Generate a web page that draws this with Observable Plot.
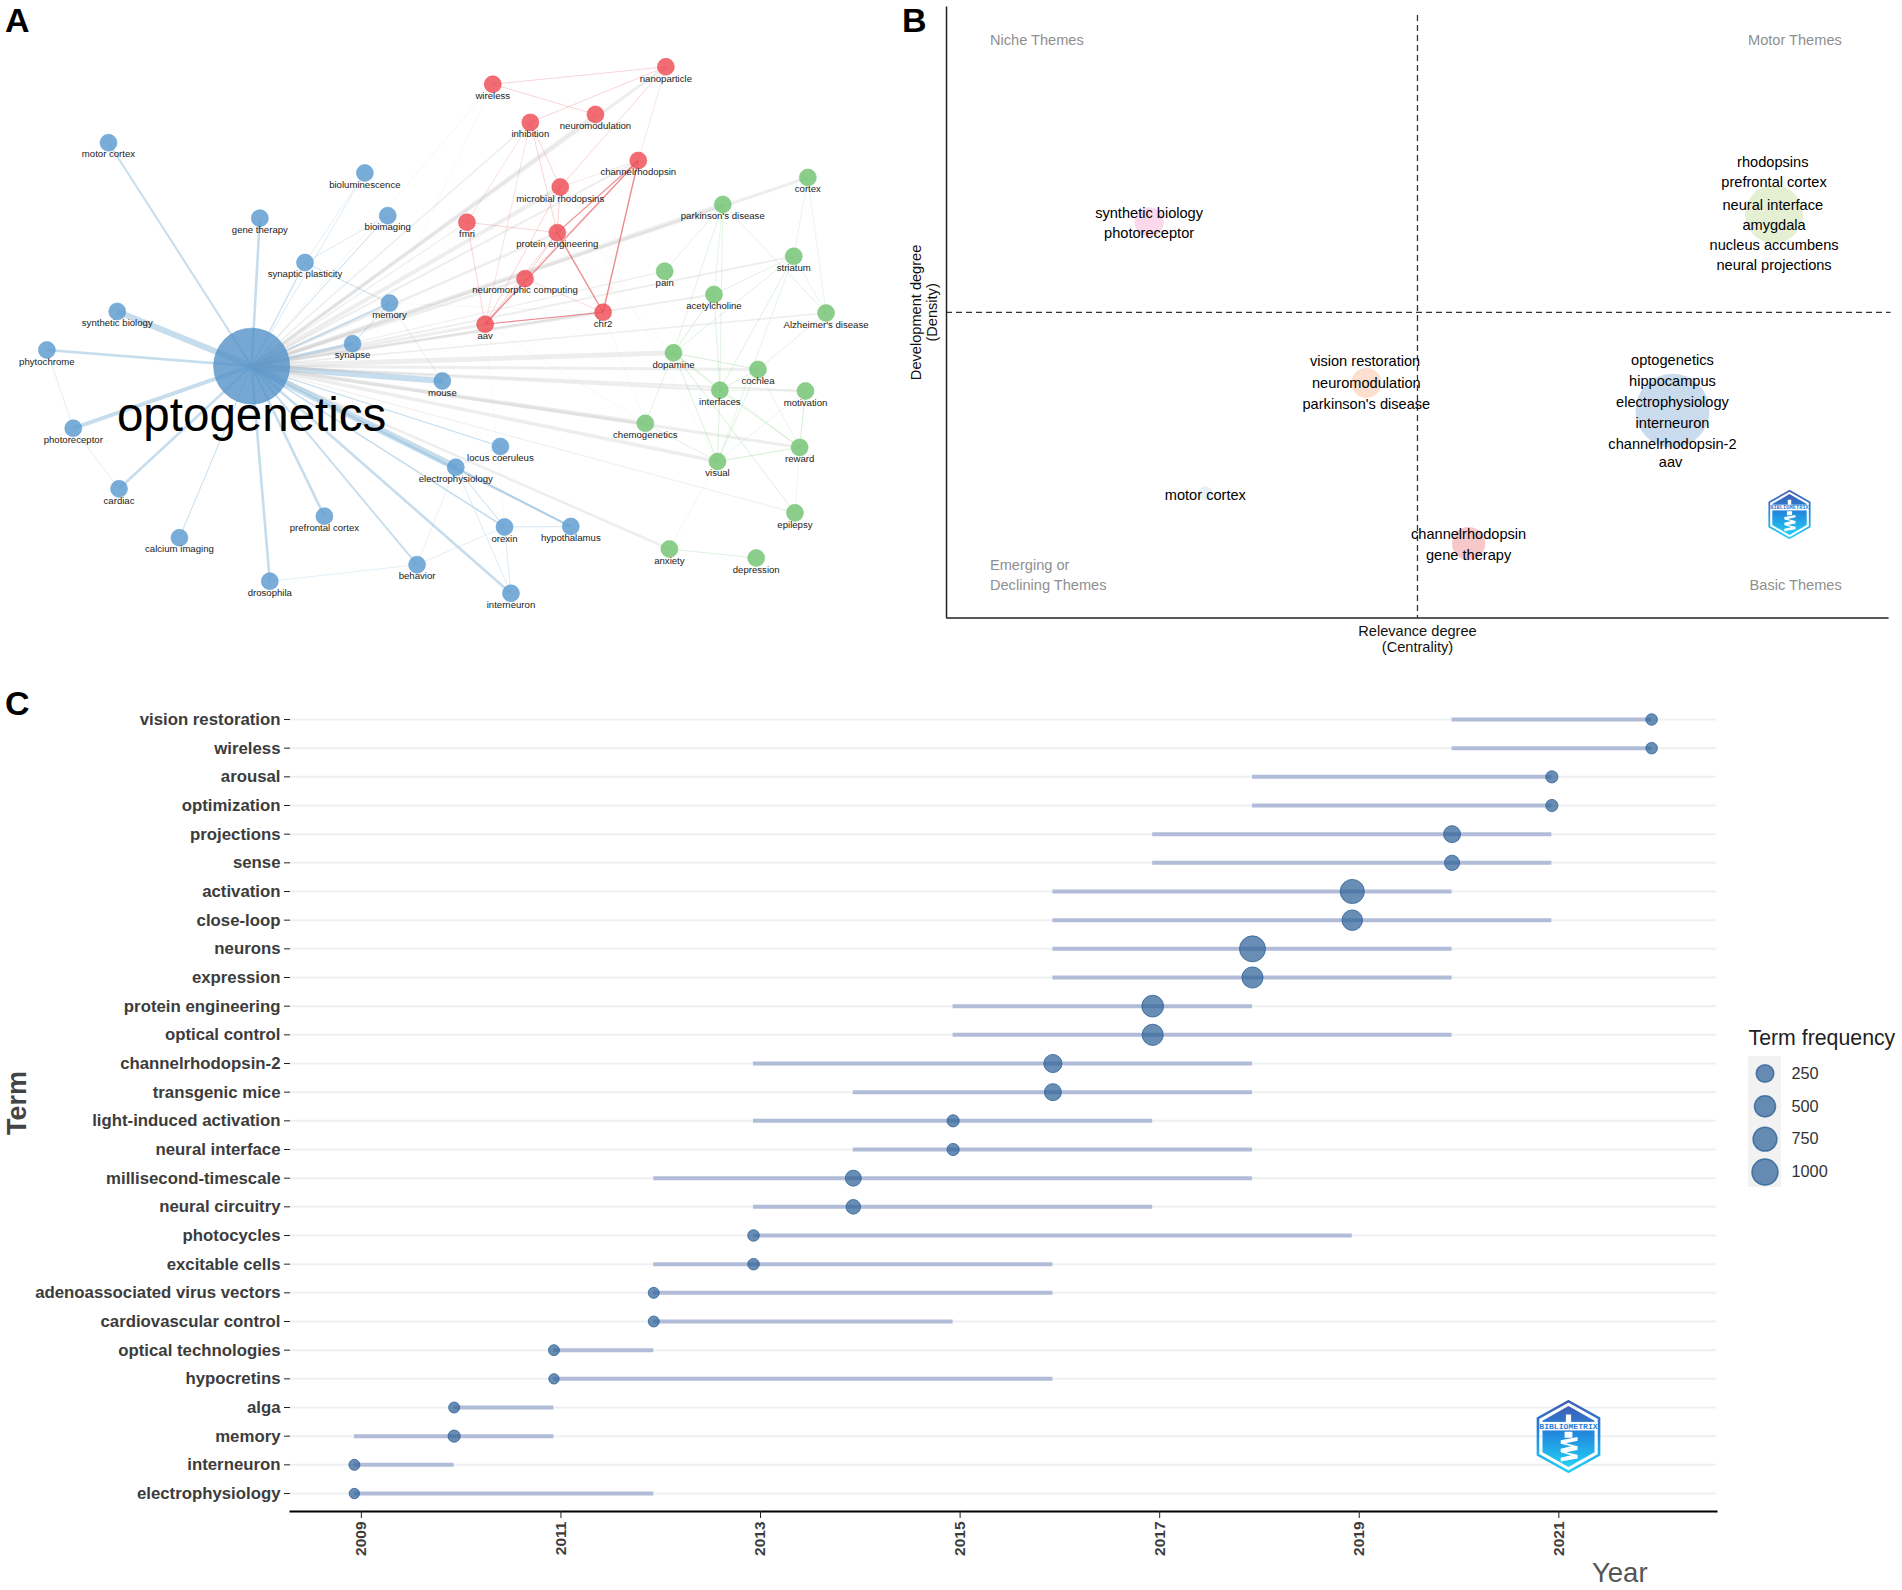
<!DOCTYPE html>
<html><head><meta charset="utf-8">
<script src="https://cdn.jsdelivr.net/npm/d3@7"></script>
<script src="https://cdn.jsdelivr.net/npm/@observablehq/plot@0.6"></script>
<style>
html,body{margin:0;padding:0;background:#fff;font-family:"Liberation Sans",Arial,sans-serif}
#page{position:relative;width:1902px;height:1590px;overflow:hidden}
.abs{position:absolute}
.letter{position:absolute;font-weight:bold;font-size:34px;line-height:34px;color:#000}
#page svg{position:absolute}
</style></head><body><div id="page"></div>
<script>
// ---------- Panel A: thematic network (layout units) ----------
const nodeNames = ["optogenetics","motor cortex","bioluminescence","gene therapy","bioimaging","synaptic plasticity","memory","synthetic biology","phytochrome","synapse","mouse","photoreceptor","cardiac","locus coeruleus","electrophysiology","prefrontal cortex","calcium imaging","orexin","hypothalamus","behavior","drosophila","interneuron",
"wireless","nanoparticle","inhibition","neuromodulation","channelrhodopsin","microbial rhodopsins","fmri","protein engineering","neuromorphic computing","aav","chr2",
"cortex","parkinson's disease","striatum","pain","acetylcholine","Alzheimer's disease","dopamine","cochlea","interfaces","motivation","chemogenetics","reward","visual","epilepsy","anxiety","depression"];
const nodeX = [428,184,621,442,660,519,663,199,79,600,753,124,202,852,776,552,305,859,972,710,459,870,
839,1134,903,1014,1087,954,795,949,894,826,1027,
1376,1231,1352,1132,1216,1407,1147,1291,1226,1372,1099,1362,1222,1354,1140,1288];
const nodeY = [882,343,416,525,519,632,730,750,843,828,918,1032,1178,1076,1126,1244,1296,1270,1269,1361,1401,1430,
202,160,294,275,386,450,535,560,671,781,752,
427,492,617,653,709,754,850,890,940,942,1020,1078,1112,1236,1323,1345];
const nodeGroups = [...Array(22).fill("blue"),...Array(11).fill("red"),...Array(16).fill("green")];
const hubEdges = [["motor cortex",2],["bioluminescence",.6],["gene therapy",2.6],["bioimaging",1],["synaptic plasticity",1.2],["memory",2],["synthetic biology",6],["phytochrome",2.6],["synapse",3],["mouse",6],["photoreceptor",4],["cardiac",2.6],["locus coeruleus",1.2],["electrophysiology",7],["prefrontal cortex",2.6],["calcium imaging",1],["orexin",1.6],["hypothalamus",2],["behavior",1.8],["drosophila",2.6],["interneuron",2.6],
["wireless",.6],["nanoparticle",3],["inhibition",1.5],["neuromodulation",3],["channelrhodopsin",2],["microbial rhodopsins",4],["fmri",1.2],["protein engineering",2.5],["neuromorphic computing",3],["aav",3],["chr2",3],
["cortex",3],["parkinson's disease",4],["striatum",2],["pain",1.2],["acetylcholine",2],["Alzheimer's disease",1.6],["dopamine",5],["cochlea",3],["interfaces",2.5],["motivation",2.2],["chemogenetics",4],["reward",3],["visual",3.5],["epilepsy",1],["anxiety",2.6]];
const otherEdges = [["wireless","nanoparticle",.8],["wireless","neuromodulation",.8],["inhibition","nanoparticle",.8],["microbial rhodopsins","nanoparticle",.8],["nanoparticle","channelrhodopsin",.5],["inhibition","microbial rhodopsins",.8],["inhibition","protein engineering",.8],["inhibition","aav",.6],["fmri","protein engineering",.8],["fmri","aav",.8],["fmri","inhibition",.6],["microbial rhodopsins","channelrhodopsin",.5],["microbial rhodopsins","protein engineering",.8],["microbial rhodopsins","aav",.8],["channelrhodopsin","protein engineering",1.2],["channelrhodopsin","neuromorphic computing",.8],["channelrhodopsin","aav",1.2],["channelrhodopsin","chr2",1.4],["protein engineering","chr2",1.4],["protein engineering","neuromorphic computing",.9],["protein engineering","aav",.8],["neuromorphic computing","aav",1],["neuromorphic computing","chr2",.7],["aav","chr2",1.2],
["cortex","striatum",.5],["cortex","Alzheimer's disease",.5],["parkinson's disease","pain",.7],["parkinson's disease","acetylcholine",.6],["parkinson's disease","dopamine",.7],["parkinson's disease","interfaces",.7],["parkinson's disease","Alzheimer's disease",.7],["striatum","acetylcholine",.7],["striatum","dopamine",.7],["striatum","interfaces",.8],["striatum","Alzheimer's disease",.5],["striatum","visual",.6],["acetylcholine","dopamine",1],["acetylcholine","interfaces",.8],["Alzheimer's disease","cochlea",.7],["dopamine","cochlea",1],["dopamine","interfaces",1],["dopamine","chemogenetics",.7],["dopamine","reward",.7],["dopamine","visual",.9],["dopamine","epilepsy",.9],["cochlea","interfaces",.8],["cochlea","visual",.8],["cochlea","reward",.5],["interfaces","motivation",.5],["interfaces","reward",.9],["interfaces","visual",.8],["motivation","reward",1],["motivation","visual",.5],["reward","visual",1],["reward","epilepsy",.4],["chemogenetics","visual",.8],["visual","anxiety",.4],["anxiety","depression",.8],
["synaptic plasticity","memory",1],["synaptic plasticity","bioluminescence",.5],["bioimaging","synaptic plasticity",.6],["memory","synapse",1],["memory","mouse",.5],["phytochrome","photoreceptor",.5],["photoreceptor","cardiac",.5],["drosophila","behavior",.5],["behavior","orexin",.5],["behavior","electrophysiology",.4],["electrophysiology","orexin",1],["electrophysiology","hypothalamus",1.6],["electrophysiology","interneuron",.6],["orexin","hypothalamus",.7],["orexin","interneuron",.5],
["memory","chr2",.5],["aav","chemogenetics",.4],["protein engineering","dopamine",.4],["inhibition","visual",.3],["aav","interneuron",.3],["wireless","memory",.4],["chr2","chemogenetics",.4],["locus coeruleus","electrophysiology",.4]];

// ---------- Panel B: thematic map (layout units) ----------
const clusterX = [389,1367,729,1208,477,889];
const clusterY = [518,500,895,960,1153,1271];
const clusterR = [14.7,29,15,37,7,16.6];
const clusterColors = ["#fbd8ea","#e5f0d2","#fcdfce","#c9dbec","#e8f1f8","#f6c8ca"];
const mapLabelText = ["synthetic biology","photoreceptor","rhodopsins","prefrontal cortex","neural interface","amygdala","nucleus accumbens","neural projections","vision restoration","neuromodulation","parkinson's disease","optogenetics","hippocampus","electrophysiology","interneuron","channelrhodopsin-2","aav","motor cortex","channelrhodopsin","gene therapy"];
const mapLabelX = [389,389,1365,1367,1365,1367,1367,1367,727,729,729,1208,1208,1208,1208,1208,1205,477,889,889];
const mapLabelY = [497,546,379,426,479,525,573,620,844,896,945,842,891,940,989,1038,1080,1157,1249,1298];
const quadrantText = ["Niche Themes","Emerging or","Declining Themes"];
const quadrantX = [140,140,140];
const quadrantY = [93,1321,1369];
const quadrantRightText = ["Motor Themes","Basic Themes"];
const quadrantRightX = [1473,1473];
const quadrantRightY = [93,1369];
const centralityMid = 809, densityMid = 730, mapLeft = 72, mapRight = 1547, mapTop = 15, mapBottom = 1445;

// ---------- Panel C: trend topics ----------
const terms = ["vision restoration","wireless","arousal","optimization","projections","sense","activation","close-loop","neurons","expression","protein engineering","optical control","channelrhodopsin-2","transgenic mice","light-induced activation","neural interface","millisecond-timescale","neural circuitry","photocycles","excitable cells","adenoassociated virus vectors","cardiovascular control","optical technologies","hypocretins","alga","memory","interneuron","electrophysiology"];
const yearStart = [2020,2020,2018,2018,2017,2017,2016,2016,2016,2016,2015,2015,2013,2014,2013,2014,2012,2013,2013,2012,2012,2012,2011,2011,2010,2009,2009,2009];
const yearEnd   = [2022,2022,2021,2021,2021,2021,2020,2021,2020,2020,2018,2020,2018,2018,2017,2018,2018,2017,2019,2016,2016,2015,2012,2016,2011,2011,2010,2012];
const yearPeak  = [2022,2022,2021,2021,2020,2020,2019,2019,2018,2018,2017,2017,2016,2016,2015,2015,2014,2014,2013,2013,2012,2012,2011,2011,2010,2010,2009,2009];
const termFreq  = [20,20,32,32,215,127,795,459,1000,509,561,509,286,215,32,32,163,103,20,20,11,11,11,5,11,32,11,5];
const yearTicks = [2009,2011,2013,2015,2017,2019,2021];
const legendValues = [250,500,750,1000];

const page = document.getElementById("page");
const rScale = {type:"sqrt",domain:[0,1000],range:[4.6,13]};
const font = '"Liberation Sans",Arial,sans-serif';
function place(svg,left,top){svg.style.left=left+"px";svg.style.top=top+"px";svg.style.background="transparent";page.appendChild(svg);}
function html(text,cls,left,top,css){const d=document.createElement("div");d.className=cls;d.textContent=text;d.style.left=left+"px";d.style.top=top+"px";if(css)d.style.cssText+=css;page.appendChild(d);return d;}

// Panel A
const nodes = nodeNames.map((name,i)=>({name,x:nodeX[i],y:nodeY[i],group:nodeGroups[i]}));
const byName = new Map(nodes.map(n=>[n.name,n]));
const edges = [...hubEdges.map(([t,w])=>["optogenetics",t,w]),...otherEdges].map(([a,b,w])=>{
  const s=byName.get(a),t=byName.get(b);
  return {x1:s.x,y1:s.y,x2:t.x,y2:t.y,w,group:s.group===t.group?s.group:"cross"};
});
const edgeColor = {blue:"#8dbbdc",red:"#e25b62",green:"#7fc97f",cross:"#bcbcbc"};
const nodeColor = {blue:"#5b9bd0",red:"#ee4c54",green:"#72c372"};
const layoutA = {x:{domain:[0,1568],range:[0,920],axis:null},y:{domain:[0,1568],range:[0,650],axis:null}};
const nodesSmall = nodes.filter(n=>n.name!=="optogenetics");
const edgeOpacity = d=>d.group==="cross"?0.25:(d.group==="blue"?0.5:(d.w>=1.2?.7:.32));
place(Plot.plot({width:920,height:650,margin:0,...layoutA,style:{fontFamily:font},
  marks:[
    Plot.link(edges,{x1:"x1",y1:"y1",x2:"x2",y2:"y2",stroke:d=>edgeColor[d.group],strokeWidth:"w",strokeOpacity:edgeOpacity}),
    Plot.dot(nodesSmall,{x:"x",y:"y",r:8.5,fill:d=>nodeColor[d.group],fillOpacity:.82,stroke:d=>nodeColor[d.group],strokeWidth:.5}),
    Plot.dot(nodes.filter(n=>n.name==="optogenetics"),{x:"x",y:"y",r:38,fill:"#4f8fc6",fillOpacity:.78,stroke:"#4f8fc6",strokeWidth:.5}),
    Plot.text(nodesSmall,{x:"x",y:"y",text:"name",dy:11.6,fontSize:9.6,fill:"#222"}),
    Plot.text(nodes.filter(n=>n.name==="optogenetics"),{x:"x",y:"y",text:"name",dy:49.5,fontSize:47.5,fill:"#000"})
  ]}),0,0);

// Panel B
const clusters = clusterX.map((x,i)=>({x,y:clusterY[i],r:clusterR[i],c:clusterColors[i]}));
const mapLabels = mapLabelText.map((t,i)=>({t,x:mapLabelX[i],y:mapLabelY[i]}));
const layoutB = {x:{domain:[0,1568],range:[0,1002],axis:null},y:{domain:[0,1568],range:[0,670],axis:null},r:{type:"identity"}};
const mapFont = 14.6;
place(Plot.plot({width:1002,height:670,margin:0,...layoutB,style:{fontFamily:font},
  marks:[
    Plot.dot(clusters,{x:"x",y:"y",r:"r",fill:"c"}),
    Plot.ruleX([centralityMid],{y1:35,y2:mapBottom,stroke:"#333",strokeDasharray:"6,4",strokeWidth:1.3}),
    Plot.ruleY([densityMid],{x1:mapLeft,x2:1550,stroke:"#333",strokeDasharray:"6,4",strokeWidth:1.3}),
    Plot.ruleX([mapLeft],{y1:mapTop,y2:mapBottom,stroke:"#222",strokeWidth:1.5}),
    Plot.ruleY([mapBottom],{x1:mapLeft,x2:mapRight,stroke:"#222",strokeWidth:1.5}),
    Plot.text(mapLabels,{x:"x",y:"y",text:"t",fontSize:mapFont,fill:"#000"}),
    Plot.text(quadrantText,{x:(d,i)=>quadrantX[i],y:(d,i)=>quadrantY[i],text:d=>d,textAnchor:"start",fontSize:mapFont,fill:"#8f8f8f"}),
    Plot.text(quadrantRightText,{x:(d,i)=>quadrantRightX[i],y:(d,i)=>quadrantRightY[i],text:d=>d,textAnchor:"end",fontSize:mapFont,fill:"#8f8f8f"}),
    Plot.text(["Relevance degree","(Centrality)"],{x:()=>centralityMid,y:(d,i)=>[1477,1513][i],text:d=>d,fontSize:mapFont,fill:"#111"}),
    Plot.text(["Development degree","(Density)"],{x:(d,i)=>[25,50][i],y:()=>densityMid,text:d=>d,rotate:-90,fontSize:mapFont,fill:"#111"})
  ]}),900,0);

// Panel C
const rows = terms.map((term,i)=>({term,start:yearStart[i],end:yearEnd[i],peak:yearPeak[i],freq:termFreq[i]}));
place(Plot.plot({width:1740,height:910,marginLeft:290,marginRight:24,marginTop:20,marginBottom:79,style:{fontFamily:font},
  x:{domain:[2008.36,2022.65],axis:null},
  y:{type:"point",domain:terms,range:[39,813],padding:0,round:false,axis:null},
  r:rScale,
  marks:[
    Plot.ruleY(terms,{y:d=>d,stroke:"#eef0f3",strokeWidth:2}),
    Plot.ruleY(rows,{x1:"start",x2:"end",y:"term",stroke:"#b0bcd8",strokeWidth:4}),
    Plot.dot(rows,{x:"peak",y:"term",r:"freq",fill:"#2f6299",fillOpacity:.72,stroke:"#2f6299",strokeOpacity:.8,strokeWidth:1}),
    Plot.frame({anchor:"bottom",stroke:"#000",strokeWidth:2}),
    Plot.axisY({domain:terms,tickSize:6,tickPadding:4,fontWeight:"bold",fontSize:16.8,color:"#3c3c3c",label:null,stroke:"#222"}),
    Plot.axisX({ticks:yearTicks,tickFormat:"d",tickRotate:-90,tickSize:7,tickPadding:3,dx:7,fontWeight:"bold",fontSize:15.5,color:"#3c3c3c",label:null,stroke:"#222"})
  ]}),0,680);

// Panel C legend
const keyBg=document.createElement("div");keyBg.className="abs";
keyBg.style.cssText="left:1748px;top:1056px;width:33px;height:131px;background:#f2f2f2";page.appendChild(keyBg);
place(Plot.plot({width:162,height:180,margin:0,style:{fontFamily:font},
  x:{domain:[0,1],range:[24.5,51],axis:null},
  y:{type:"point",domain:legendValues,range:[53,151.6],padding:0,round:false,axis:null},
  r:rScale,
  marks:[
    Plot.dot(legendValues,{x:()=>0,y:d=>d,r:d=>d,fill:"#2f6299",fillOpacity:.72,stroke:"#2f6299",strokeOpacity:.8}),
    Plot.text(legendValues,{x:()=>1,y:d=>d,text:d=>String(d),textAnchor:"start",fontSize:16.3,fill:"#333"}),
    Plot.text(["Term frequency"],{frameAnchor:"top-left",dx:8,dy:9,text:d=>d,fontSize:21.3,fill:"#222"})
  ]}),1740,1020);

// Axis titles of C
html("Term","abs",-11,1092,'font-weight:bold;font-size:27px;line-height:30px;color:#444;width:56px;text-align:center;transform:rotate(-90deg)');
html("Year","abs",1592,1558,'font-size:27.5px;line-height:30px;color:#555');

// Panel letters
html("A","letter",5,3);
html("B","letter",902,3);
html("C","letter",5,686);

// Bibliometrix logo
function logo(left,top,w,h,id){
  const ns="http://www.w3.org/2000/svg";
  const s=document.createElementNS(ns,"svg");
  s.setAttribute("viewBox","0 0 100 120");s.setAttribute("width",w);s.setAttribute("height",h);
  s.setAttribute("preserveAspectRatio","none");
  s.style.left=left+"px";s.style.top=top+"px";
  s.innerHTML=`<defs><linearGradient id="${id}" x1="0" y1="0" x2="0" y2="1"><stop offset="0" stop-color="#3f5fb5"/><stop offset=".45" stop-color="#2288dd"/><stop offset="1" stop-color="#22d0f5"/></linearGradient></defs>
  <polygon points="50,2 97,30 97,90 50,118 3,90 3,30" fill="none" stroke="url(#${id})" stroke-width="4"/>
  <polygon points="50,10 90,34 90,86 50,110 10,86 10,34" fill="url(#${id})"/>
  <rect x="7" y="36" width="86" height="14" fill="#fff"/>
  <text x="50" y="47" text-anchor="middle" font-family="Liberation Mono,monospace" font-weight="bold" font-size="12.5" fill="#2a7fd8">BIBLIOMETRIX</text>
  <path d="M44 52h12v10H44zM46 24h8v12h-8z" fill="#fff"/>
  <path d="M38 66l26-5v6l-18 4 18 5v6l-18 4 18 4v6l-26 5v-6l16-4-16-5v-6l16-4-16-4z" fill="#fff"/>`;
  page.appendChild(s);
}
logo(1768,490,43,49,"lg1");
logo(1536,1400,65,73,"lg2");
</script></body></html>
